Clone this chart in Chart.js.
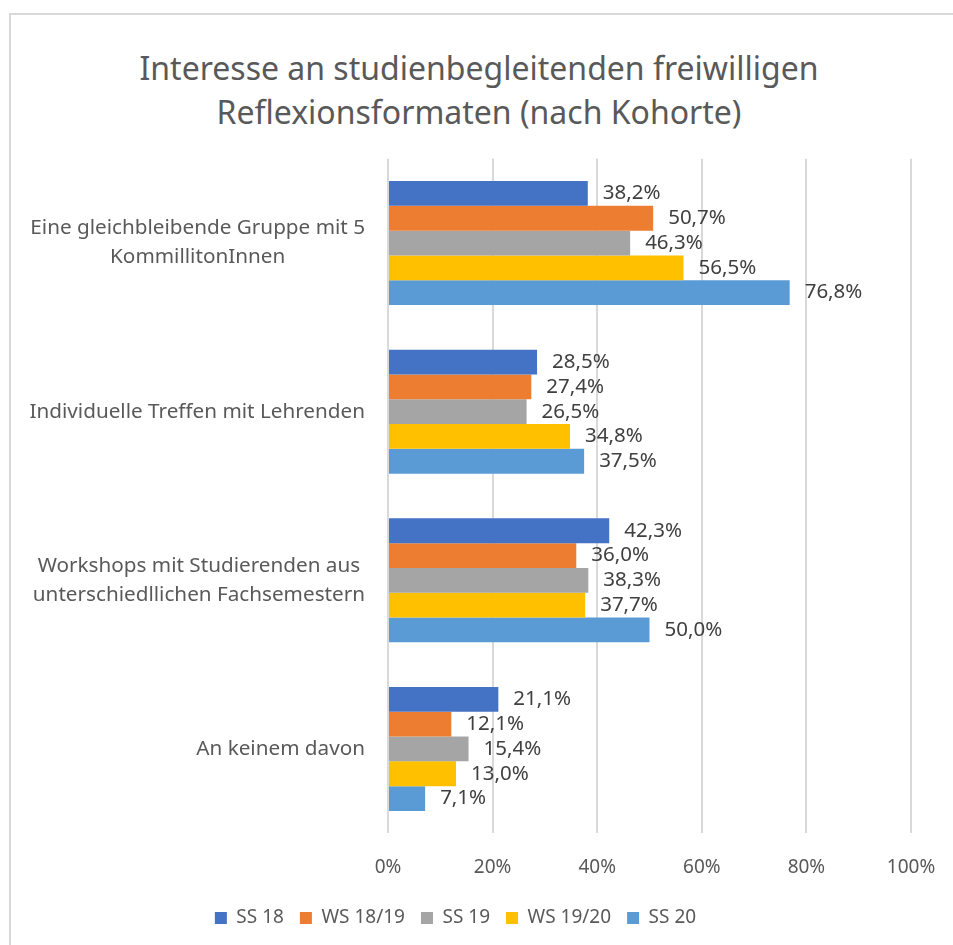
<!DOCTYPE html>
<html lang="de">
<head>
  <meta charset="UTF-8">
  <title>Interesse an Reflexionsformaten</title>
  <script src="https://cdn.jsdelivr.net/npm/chart.js"></script>
  <style>
    html, body {
      margin: 0;
      padding: 0;
      background: #fff;
      overflow: hidden;
      width: 953px;
      height: 945px;
    }
    .frame {
      position: absolute;
      left: 9px;
      top: 13px;
      width: 960px;
      height: 960px;
      border-left: 2px solid #d9d9d9;
      border-top: 2px solid #d9d9d9;
    }
    .title {
      position: absolute;
      left: 0;
      width: 958px;
      top: 46px;
      text-align: center;
      font-family: "Noto Sans", sans-serif;
      font-size: 32px;
      line-height: 44px;
      color: #595959;
    }
    #chart {
      position: absolute;
      left: 0;
      top: 0;
    }
  </style>
</head>
<body>
  <div class="frame"></div>
  <div class="title">Interesse an studienbegleitenden freiwilligen<br>Reflexionsformaten (nach Kohorte)</div>
  <canvas id="chart" width="953" height="945"></canvas>

  <script>
    // data
    const categories = [
      ['Eine gleichbleibende Gruppe mit 5', 'KommillitonInnen'],
      'Individuelle Treffen mit Lehrenden',
      ['Workshops mit Studierenden aus', 'unterschiedllichen Fachsemestern'],
      'An keinem davon'
    ];
    const seriesNames = ['SS 18', 'WS 18/19', 'SS 19', 'WS 19/20', 'SS 20'];
    const ss18 = [38.2, 28.5, 42.3, 21.1];
    const ws1819 = [50.7, 27.4, 36.0, 12.1];
    const ss19 = [46.3, 26.5, 38.3, 15.4];
    const ws1920 = [56.5, 34.8, 37.7, 13.0];
    const ss20 = [76.8, 37.5, 50.0, 7.1];
    const xTicks = [0, 20, 40, 60, 80, 100];

    const colors = ['#4472C4', '#ED7D31', '#A5A5A5', '#FFC000', '#5B9BD5'];
    const values = [ss18, ws1819, ss19, ws1920, ss20];
    const FONT = '"Noto Sans", sans-serif';
    const GREY = '#595959';

    // category labels: block right-aligned, lines centred inside the block
    const categoryLabels = {
      id: 'categoryLabels',
      afterDraw(chart) {
        const ctx = chart.ctx;
        const y = chart.scales.y;
        const right = 365;
        const lh = 29;
        ctx.save();
        ctx.font = '20.7px ' + FONT;
        ctx.fillStyle = GREY;
        ctx.textAlign = 'center';
        ctx.textBaseline = 'middle';
        chart.data.labels.forEach((lab, i) => {
          const lines = Array.isArray(lab) ? lab : [lab];
          const maxW = Math.max(...lines.map(l => ctx.measureText(l).width));
          const cx = right - maxW / 2;
          const cy = y.getPixelForTick(i);
          lines.forEach((l, j) => {
            ctx.fillText(l, cx, cy + (j - (lines.length - 1) / 2) * lh);
          });
        });
        ctx.restore();
      }
    };

    // value labels to the right of each bar
    const valueLabels = {
      id: 'valueLabels',
      afterDatasetsDraw(chart) {
        const ctx = chart.ctx;
        ctx.save();
        ctx.font = '20.5px ' + FONT;
        ctx.fillStyle = '#404040';
        ctx.textAlign = 'left';
        ctx.textBaseline = 'middle';
        chart.data.datasets.forEach((ds, di) => {
          chart.getDatasetMeta(di).data.forEach((bar, i) => {
            const txt = ds.data[i].toFixed(1).replace('.', ',') + '%';
            ctx.fillText(txt, bar.x + 15, bar.y);
          });
        });
        ctx.restore();
      }
    };

    const ctx = document.getElementById('chart').getContext('2d');
    new Chart(ctx, {
      type: 'bar',
      data: {
        labels: categories,
        datasets: seriesNames.map((name, i) => ({
          label: name,
          data: values[i],
          backgroundColor: colors[i],
          borderWidth: 0,
          barPercentage: 1,
          categoryPercentage: 0.735
        }))
      },
      options: {
        indexAxis: 'y',
        responsive: false,
        animation: false,
        devicePixelRatio: 1,
        layout: {
          padding: { top: 158.7, bottom: 7.5, left: 0, right: 42 }
        },
        scales: {
          x: {
            min: 0,
            max: 100,
            afterBuildTicks(scale) {
              scale.ticks = xTicks.map(v => ({ value: v }));
            },
            afterFit(scale) {
              scale.height = 59.2;
              scale.paddingLeft = 0;
              scale.paddingRight = 0;
            },
            grid: {
              color: '#d9d9d9',
              lineWidth: 2,
              drawTicks: false
            },
            border: { display: false },
            ticks: {
              padding: 23,
              color: GREY,
              font: { family: FONT, size: 19 },
              callback: v => v + '%'
            }
          },
          y: {
            afterFit(scale) {
              scale.width = 388;
            },
            grid: { display: false },
            border: { display: false },
            ticks: { display: false }
          }
        },
        plugins: {
          title: { display: false },
          tooltip: { enabled: false },
          legend: {
            position: 'bottom',
            labels: {
              boxWidth: 12,
              boxHeight: 12,
              padding: 16,
              color: GREY,
              font: { family: FONT, size: 19 }
            }
          }
        }
      },
      plugins: [categoryLabels, valueLabels]
    });
  </script>
</body>
</html>
